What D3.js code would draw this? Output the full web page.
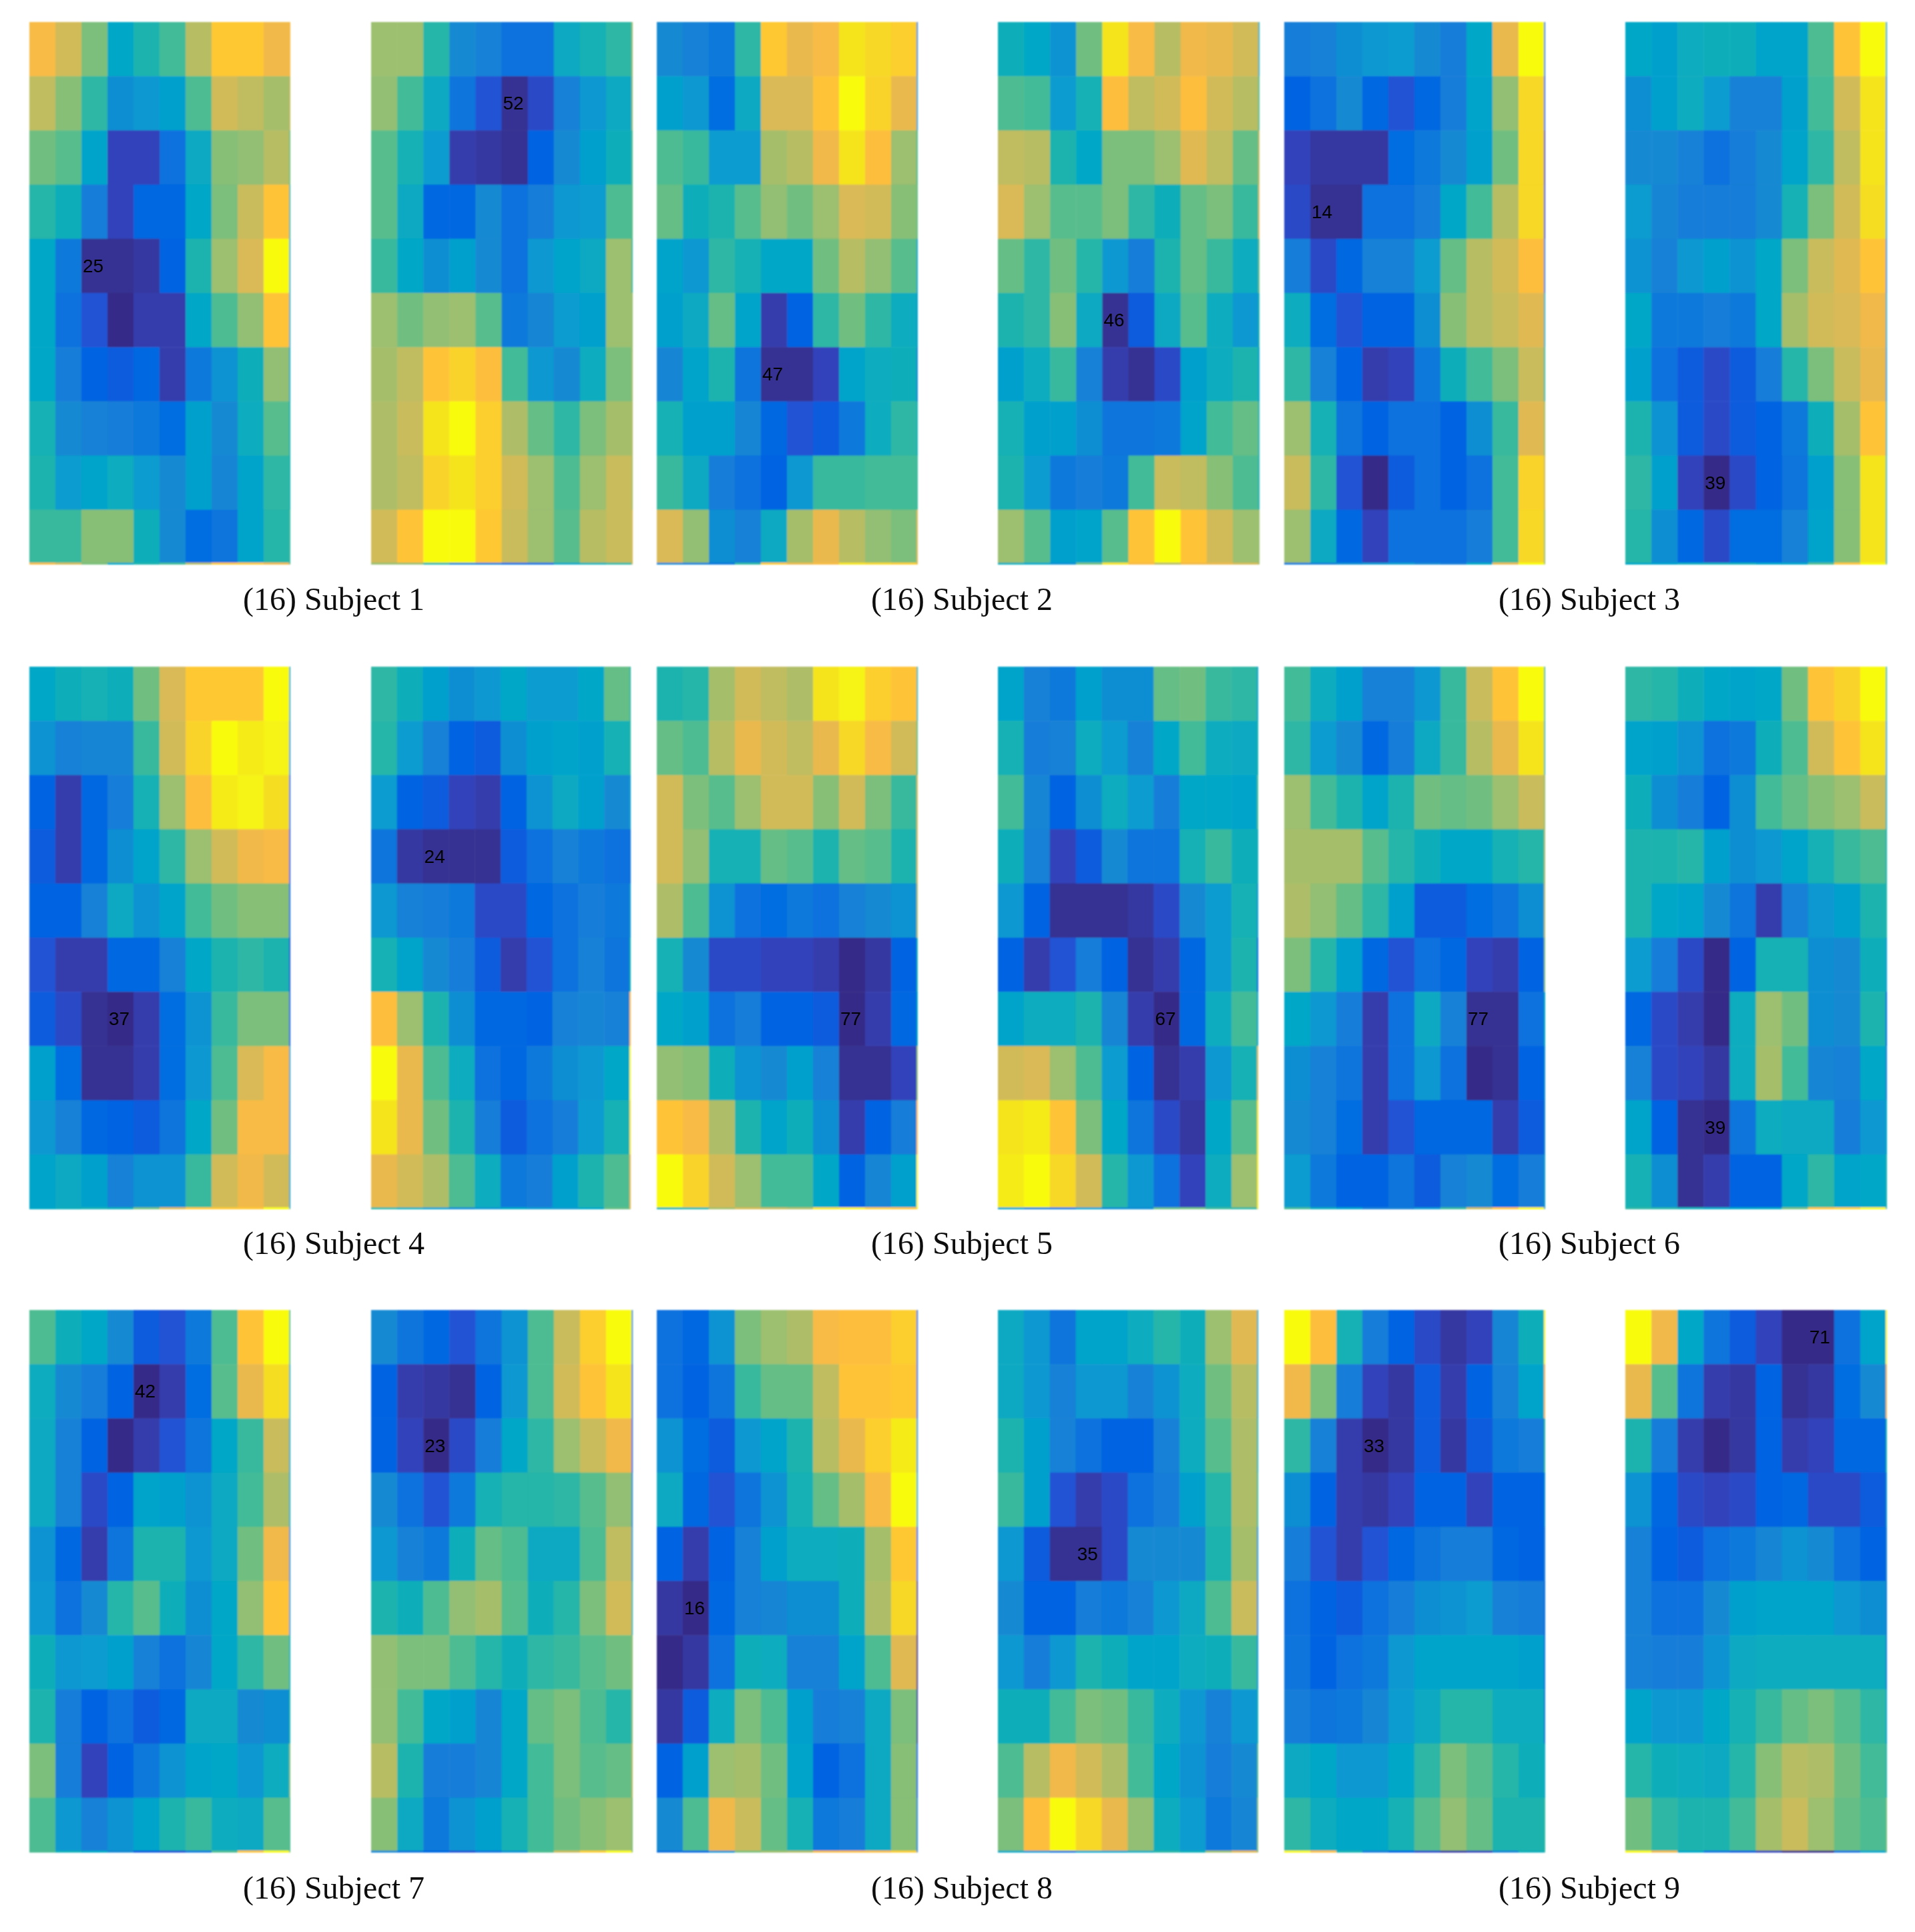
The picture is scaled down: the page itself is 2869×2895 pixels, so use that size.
<!DOCTYPE html>
<html>
<head>
<meta charset="utf-8">
<script src="https://cdn.jsdelivr.net/npm/d3@7"></script>
<style>
  html, body { margin: 0; padding: 0; background: #fff; }
  svg { display: block; }
  .caption { font-family: "Liberation Serif", serif; font-size: 48px; fill: #111; text-anchor: middle; }
  .min-label { font-family: "Liberation Sans", sans-serif; font-size: 28px; fill: #000; dominant-baseline: central; }
</style>
</head>
<body>
<script>
// parula, 64 levels
var parula = [
  [.2081,.1663,.5292],[.2116,.1898,.5777],[.2123,.2138,.6270],[.2081,.2386,.6771],
  [.1959,.2645,.7279],[.1707,.2919,.7792],[.1253,.3242,.8303],[.0591,.3598,.8683],
  [.0117,.3875,.8820],[.0060,.4086,.8828],[.0165,.4266,.8786],[.0329,.4430,.8720],
  [.0498,.4586,.8641],[.0629,.4737,.8554],[.0723,.4887,.8467],[.0779,.5040,.8384],
  [.0793,.5200,.8312],[.0749,.5375,.8263],[.0641,.5570,.8240],[.0488,.5772,.8228],
  [.0343,.5966,.8199],[.0265,.6137,.8135],[.0239,.6287,.8038],[.0231,.6418,.7913],
  [.0228,.6535,.7768],[.0267,.6642,.7607],[.0384,.6743,.7436],[.0590,.6838,.7254],
  [.0843,.6928,.7062],[.1133,.7015,.6859],[.1453,.7098,.6646],[.1801,.7177,.6424],
  [.2178,.7250,.6193],[.2586,.7317,.5954],[.3022,.7376,.5712],[.3482,.7424,.5473],
  [.3953,.7459,.5244],[.4420,.7481,.5033],[.4871,.7491,.4840],[.5300,.7491,.4661],
  [.5709,.7485,.4494],[.6099,.7473,.4337],[.6473,.7456,.4188],[.6834,.7435,.4044],
  [.7184,.7411,.3905],[.7525,.7384,.3768],[.7858,.7356,.3633],[.8185,.7327,.3498],
  [.8507,.7299,.3360],[.8824,.7274,.3217],[.9139,.7258,.3063],[.9450,.7261,.2886],
  [.9739,.7314,.2666],[.9938,.7455,.2403],[.9990,.7653,.2164],[.9955,.7861,.1967],
  [.9880,.8066,.1794],[.9789,.8271,.1633],[.9697,.8481,.1475],[.9626,.8705,.1309],
  [.9589,.8949,.1132],[.9598,.9218,.0948],[.9661,.9514,.0755],[.9763,.9831,.0538]
];

// cell values are colormap levels 0-63
var s1a = [[52,47,38,24,29,33,44,55,55,51],[45,39,31,18,20,22,34,47,45,42],[37,35,23,4,4,11,25,39,40,44],[30,27,14,4,9,9,24,38,46,54],[24,13,1,1,2,8,29,41,48,63],[24,11,6,0,3,3,24,34,40,54],[24,14,8,7,9,3,13,19,27,40],[28,17,15,14,13,10,22,17,26,35],[29,21,23,26,21,17,22,16,23,31],[32,32,39,39,27,17,10,12,23,30]];
var s1b = [[41,41,30,17,15,11,11,25,28,31],[40,33,25,12,6,1,5,15,20,25],[35,28,21,3,2,1,8,17,22,27],[35,25,9,9,17,11,14,20,21,34],[32,24,18,22,17,11,20,23,25,41],[41,37,40,41,35,13,16,21,22,41],[42,45,54,57,53,33,20,17,26,38],[43,46,60,63,56,43,36,31,38,42],[43,45,57,60,56,47,41,34,41,46],[47,54,63,63,55,46,41,35,44,46]];
var s2a = [[17,15,13,31,55,50,52,60,58,56],[22,20,10,25,48,48,54,63,57,50],[34,32,21,21,42,44,51,60,53,41],[36,27,29,35,40,37,41,48,47,39],[23,20,31,28,24,24,37,44,40,35],[22,25,36,23,3,8,31,37,31,26],[16,23,29,12,1,1,4,23,26,27],[28,22,22,16,9,6,7,13,26,31],[32,25,14,11,8,20,32,32,33,33],[48,40,18,15,25,42,50,44,40,38]];
var s2b = [[27,24,19,37,60,52,44,51,50,47],[34,33,21,28,53,45,47,53,47,44],[45,44,29,24,38,38,41,49,45,36],[48,41,35,35,38,31,27,36,38,32],[36,31,37,30,20,14,29,36,32,26],[29,31,39,25,1,7,25,35,26,20],[22,26,32,15,3,1,5,22,26,29],[28,22,22,18,12,12,13,23,33,36],[29,21,13,14,13,33,46,45,39,34],[41,35,22,23,35,54,63,54,47,41]];
var s3a = [[14,15,18,20,21,17,14,24,50,63],[8,11,17,9,6,9,14,23,40,58],[4,2,2,2,10,13,17,22,37,58],[5,1,1,11,11,14,24,33,44,58],[14,5,9,15,15,21,36,44,47,53],[26,10,6,8,8,18,39,44,46,49],[31,15,8,3,4,13,27,33,38,46],[41,28,12,8,11,11,8,18,32,49],[46,31,6,0,7,11,8,11,33,57],[41,25,9,4,11,11,11,14,33,58]];
var s3b = [[24,22,26,27,27,23,23,34,54,63],[18,22,26,21,15,15,22,33,47,60],[17,17,15,11,14,17,23,31,45,60],[21,16,14,14,14,17,28,38,47,59],[19,15,20,22,19,24,38,46,49,54],[24,13,13,14,13,24,42,47,48,51],[22,11,7,5,7,14,30,38,46,50],[29,19,7,5,7,8,13,27,42,54],[31,22,4,0,5,8,12,22,39,60],[30,18,9,5,10,10,15,23,39,60]];
var s4a = [[24,27,28,27,37,48,55,55,55,63],[19,15,16,16,32,47,57,63,61,62],[8,3,9,14,28,41,53,61,62,59],[7,3,9,18,23,31,41,47,51,52],[8,8,15,25,19,23,33,37,39,39],[6,3,3,9,9,15,24,29,31,29],[7,5,1,0,3,10,19,32,38,38],[22,10,1,1,3,10,20,34,48,52],[20,15,9,8,7,12,24,37,52,52],[23,25,22,15,19,19,32,47,51,47]];
var s4b = [[31,27,22,18,20,24,21,21,24,36],[30,21,15,8,7,18,22,23,22,28],[21,8,7,4,3,8,19,25,22,17],[12,2,1,1,1,7,11,15,13,11],[20,15,14,13,5,5,9,11,14,13],[28,23,17,14,7,3,6,11,15,12],[53,41,29,18,9,9,8,15,16,15],[63,50,34,26,11,9,13,18,20,24],[60,50,37,29,14,7,11,14,21,28],[50,47,43,34,26,13,14,22,29,34]];
var s5a = [[29,30,42,47,45,43,60,62,56,54],[36,34,44,50,47,45,50,58,52,47],[47,38,35,41,47,47,39,47,38,32],[47,40,28,28,36,35,29,36,35,29],[43,34,19,11,10,13,11,15,17,19],[28,17,5,5,4,4,3,0,2,8],[24,22,11,14,8,8,7,0,3,9],[40,39,27,19,17,22,15,1,1,4],[54,52,43,29,23,27,18,3,8,14],[63,57,47,41,33,33,24,8,16,22]];
var s5b = [[23,15,13,22,18,18,36,37,32,31],[28,14,15,26,21,15,24,33,26,25],[33,16,8,18,26,21,14,24,24,23],[27,15,4,7,17,12,12,28,32,27],[20,8,1,1,1,2,5,17,21,28],[8,3,6,14,8,1,3,9,21,29],[23,26,26,29,16,3,0,9,26,33],[47,48,41,34,21,8,1,3,20,28],[60,61,54,38,24,12,5,2,24,35],[61,63,58,47,30,20,11,4,26,41]];
var s6a = [[33,26,22,15,15,20,32,46,54,63],[31,21,17,9,14,25,32,44,50,60],[41,33,29,23,29,37,36,37,41,46],[42,42,42,35,30,27,24,24,28,30],[43,40,36,31,22,7,7,10,12,18],[38,30,22,9,6,11,9,4,3,8],[24,20,14,3,11,25,15,1,1,11],[18,15,12,3,11,20,11,0,1,8],[17,15,10,3,6,9,9,9,3,7],[21,13,8,8,12,7,15,17,10,14]];
var s6b = [[31,30,27,24,23,24,37,54,57,63],[23,22,19,11,13,27,34,47,54,60],[27,18,14,8,18,33,36,39,41,46],[29,29,30,22,18,20,23,28,32,34],[29,24,23,17,12,3,15,20,22,29],[21,14,5,0,8,28,28,18,17,27],[9,5,3,0,26,41,37,18,17,29],[15,5,4,2,26,42,33,16,15,24],[23,8,1,0,12,26,25,25,14,20],[28,18,1,3,8,8,24,31,23,24]];
var s7a = [[34,27,24,17,7,6,13,34,54,63],[26,17,14,8,0,3,10,35,50,59],[25,15,8,0,3,6,12,24,32,46],[25,15,5,8,23,22,19,25,33,43],[19,9,3,12,29,29,20,25,37,51],[20,11,17,30,35,27,18,24,40,54],[27,20,21,22,15,11,16,24,31,37],[29,14,8,11,7,9,25,25,17,18],[38,14,4,8,13,19,23,24,20,26],[34,20,15,19,23,29,32,26,25,35]];
var s7b = [[17,12,9,6,12,19,34,46,56,63],[8,3,2,1,8,20,34,47,54,60],[8,4,0,5,14,24,31,41,46,51],[17,11,6,13,28,30,30,31,35,40],[20,15,13,27,36,34,25,25,34,45],[29,27,34,40,42,35,27,30,38,47],[40,38,38,34,30,27,31,32,35,37],[40,33,24,22,16,24,36,38,34,30],[44,29,14,14,16,24,33,38,35,36],[39,25,13,19,22,28,33,37,39,41]];
var s8a = [[11,9,19,38,41,43,52,53,53,56],[11,8,12,32,36,36,45,54,54,55],[19,10,7,20,23,29,44,50,56,61],[25,9,6,12,19,28,36,42,52,63],[8,3,8,15,22,26,26,27,42,55],[2,0,9,15,16,18,18,27,43,58],[0,2,11,27,26,15,15,23,34,49],[2,7,26,38,34,22,14,15,25,38],[8,22,41,42,37,23,8,11,25,39],[17,34,51,46,36,28,13,14,25,39]];
var s8b = [[25,20,12,23,23,26,30,27,41,49],[25,20,15,20,20,15,19,26,37,44],[29,22,15,11,8,8,15,26,35,43],[32,22,6,3,5,11,14,22,30,43],[20,7,1,1,5,17,17,17,29,42],[17,8,8,14,13,15,20,25,34,46],[20,14,20,29,27,23,23,26,27,32],[27,27,33,38,37,32,26,20,15,20],[34,44,51,47,43,33,24,19,14,17],[38,53,63,58,50,40,26,21,13,16]];
var s9a = [[63,53,28,14,8,5,2,4,16,27],[51,38,14,4,2,7,3,8,15,23],[31,15,3,0,2,7,2,7,13,14],[18,8,3,2,4,8,8,4,8,8],[14,6,3,6,9,12,14,14,9,8],[11,8,7,11,14,18,19,21,15,14],[12,8,11,13,20,23,23,23,23,22],[14,12,13,16,21,25,30,30,26,26],[25,24,20,20,24,31,38,35,30,27],[31,26,24,24,28,35,40,36,29,29]];
var s9b = [[63,51,24,12,7,4,0,0,11,23],[50,35,12,3,2,8,1,2,10,17],[29,14,3,0,2,8,3,4,9,9],[19,9,5,4,5,8,9,5,5,7],[15,8,7,11,13,16,19,17,11,8],[15,11,11,17,22,23,23,23,20,18],[15,14,14,19,25,26,26,26,26,26],[23,20,20,24,28,32,36,38,35,31],[30,27,26,25,30,39,44,43,37,33],[37,31,29,29,33,42,46,41,36,34]];

var matrices = [s1a,s1b,s2a,s2b,s3a,s3b,s4a,s4b,s5a,s5b,s6a,s6b,s7a,s7b,s8a,s8b,s9a,s9b];

// column-major index of the marked cell in each panel
var minLabels = [25,52,47,46,14,39,37,24,77,67,77,39,42,23,16,35,33,71];

var captions = ["(16) Subject 1","(16) Subject 2","(16) Subject 3","(16) Subject 4","(16) Subject 5","(16) Subject 6","(16) Subject 7","(16) Subject 8","(16) Subject 9"];

var panelLefts = [44,556,984,1495,1924,2435];
var panelTops = [33,999,1963];
var panelWidths = [390,391,390,391,390,391,390,388,390,389,390,391,390,391,390,389,390,391];
var captionX = [500,1441,2381];
var captionY = [914,1879,2845];
var panelH = 812;

var levels = d3.range(64);
var color = d3.scaleOrdinal()
  .domain(levels)
  .range(parula.map(function (c) {
    return d3.rgb(c[0] * 255, c[1] * 255, c[2] * 255).formatHex();
  }));

var y = d3.scaleBand().domain(d3.range(10)).range([0, panelH]);

var svg = d3.select("body").append("svg")
  .attr("width", 2869)
  .attr("height", 2895);

var defs = svg.append("defs");
defs.append("filter").attr("id", "soft")
  .attr("x", "-2%").attr("y", "-2%").attr("width", "104%").attr("height", "104%")
  .append("feGaussianBlur").attr("stdDeviation", 1.3);
defs.append("filter").attr("id", "softText")
  .attr("x", "-5%").attr("y", "-20%").attr("width", "110%").attr("height", "140%")
  .append("feGaussianBlur").attr("stdDeviation", 0.6);

matrices.forEach(function (m, i) {
  var panelW = panelWidths[i];
  var x = d3.scaleBand().domain(d3.range(10)).range([0, panelW]);
  var tx = panelLefts[i % 6], ty = panelTops[Math.floor(i / 6)];

  var g = svg.append("g")
    .attr("transform", "translate(" + tx + " " + ty + ")")
    .attr("filter", "url(#soft)");

  var rows = g.selectAll("g.row").data(m).join("g")
    .attr("class", "row")
    .attr("transform", function (d, r) { return "translate(0 " + y(r) + ")"; });

  rows.selectAll("rect").data(function (d) { return d; }).join("rect")
    .attr("x", function (d, c) { return x(c); })
    .attr("width", x.bandwidth() + 0.5)
    .attr("height", y.bandwidth() + 0.5)
    .attr("fill", function (d) { return color(d); });

  // the image wraps round at its edges: top row shows under the bottom, left column past the right
  g.selectAll("rect.wrap-bottom").data(m[0]).join("rect")
    .attr("class", "wrap-bottom")
    .attr("x", function (d, c) { return x(c); })
    .attr("y", panelH - 2)
    .attr("width", x.bandwidth() + 0.5)
    .attr("height", 3)
    .attr("fill", function (d) { return color(d); });

  g.selectAll("rect.wrap-right").data(m.map(function (r) { return r[0]; })).join("rect")
    .attr("class", "wrap-right")
    .attr("x", panelW - 1)
    .attr("y", function (d, r) { return y(r); })
    .attr("width", 2)
    .attr("height", y.bandwidth() + 0.5)
    .attr("fill", function (d) { return color(d); });

  var idx = minLabels[i] - 1;
  svg.append("text")
    .attr("class", "min-label")
    .attr("filter", "url(#softText)")
    .attr("x", tx + x(Math.floor(idx / 10)) + 2)
    .attr("y", ty + y(idx % 10) + y.bandwidth() / 2)
    .text(minLabels[i]);
});

captions.forEach(function (t, i) {
  svg.append("text")
    .attr("class", "caption")
    .attr("filter", "url(#softText)")
    .attr("x", captionX[i % 3])
    .attr("y", captionY[Math.floor(i / 3)])
    .text(t);
});
</script>
</body>
</html>
